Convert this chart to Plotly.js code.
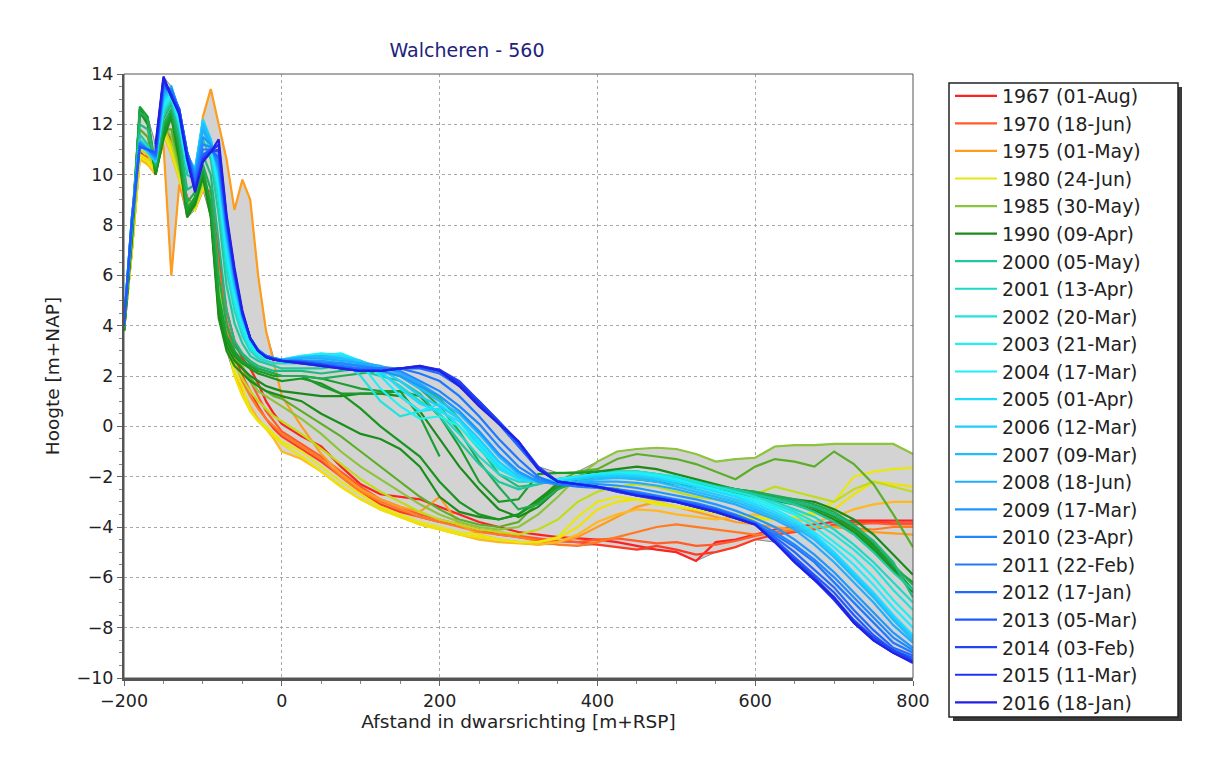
<!DOCTYPE html>
<html>
<head>
<meta charset="utf-8">
<script src="https://cdn.plot.ly/plotly-3.0.1.min.js"></script>
<style>html,body{margin:0;padding:0;background:#fff;}#chart{width:1212px;height:760px;}</style>
</head>
<body>
<div id="chart"></div>
<script>
// Shared cross-shore distance grid [m+RSP]
const afstand = [-200,-190,-180,-170,-160,-150,-140,-130,-120,-110,-100,-90,-80,-70,-60,-50,-40,-30,-20,-10,0,
  25,50,75,100,125,150,175,200,225,250,275,300,325,350,375,400,425,450,475,500,525,550,575,600,625,650,675,700,725,750,775,800];

// Heights [m+NAP] per survey
const y1967 = [3.8,7.2,10.9,10.6,10.1,12.1,11.3,10.2,9.1,8.7,9.5,9.3,6.8,4.6,3.4,2.7,2.3,1.7,1.0,0.5,0.1,
  -0.4,-0.8,-1.6,-2.3,-2.7,-2.8,-2.9,-3.2,-3.5,-3.8,-4.0,-4.2,-4.3,-4.4,-4.45,-4.5,-4.6,-4.75,-4.9,-5.0,-5.35,-4.6,-4.5,-4.3,-4.1,-4.0,-3.9,-3.8,-3.75,-3.75,-3.75,-3.75];
const y1968 = [3.8,7.0,10.7,10.5,10.0,11.8,11.0,10.0,8.9,8.6,9.4,9.1,6.2,4.0,2.8,2.0,1.4,0.8,0.3,-0.1,-0.4,
  -0.9,-1.4,-2.0,-2.6,-3.1,-3.4,-3.6,-3.8,-3.9,-4.1,-4.3,-4.4,-4.5,-4.55,-4.6,-4.7,-4.8,-4.9,-4.75,-4.9,-5.1,-5.0,-4.8,-4.5,-4.3,-4.2,-4.1,-3.9,-3.8,-3.8,-3.85,-3.85];
const y1970 = [3.8,7.1,10.8,10.7,10.2,11.9,11.1,10.1,9.0,8.8,9.6,9.2,6.4,4.2,3.0,2.3,1.8,1.2,0.6,0.2,-0.2,
  -0.7,-1.2,-1.8,-2.4,-2.9,-3.2,-3.5,-3.7,-3.9,-4.1,-4.2,-4.35,-4.45,-4.55,-4.6,-4.5,-4.45,-4.55,-4.65,-4.6,-4.75,-4.7,-4.55,-4.35,-4.2,-4.15,-4.05,-3.95,-3.9,-3.85,-3.9,-3.9];
const y1972 = [3.8,7.0,10.8,10.4,10.2,11.6,10.9,9.9,8.8,8.7,9.5,9.0,6.0,3.8,2.6,1.8,1.2,0.7,0.3,0.0,-0.3,
  -0.8,-1.3,-2.0,-2.6,-3.0,-3.3,-3.6,-3.8,-4.0,-4.2,-4.3,-4.4,-4.55,-4.7,-4.75,-4.6,-4.4,-4.2,-4.0,-3.9,-4.0,-4.1,-4.2,-4.3,-4.25,-4.1,-4.0,-4.0,-4.05,-4.1,-4.0,-4.0];
const y1975 = [3.8,7.0,10.8,10.5,10.4,11.2,6.0,9.6,8.6,9.0,12.3,13.4,12.0,10.6,8.6,9.8,9.0,6.0,3.8,2.5,1.2,
  0.0,-1.1,-1.9,-2.5,-2.9,-3.2,-3.4,-2.8,-3.9,-4.3,-4.5,-4.6,-4.7,-4.6,-4.4,-4.0,-3.6,-3.2,-3.0,-3.2,-3.4,-3.6,-3.8,-3.9,-4.0,-4.1,-4.0,-4.0,-4.1,-4.2,-4.25,-4.3];
const y1977 = [3.8,7.0,10.6,10.4,10.0,11.6,10.8,9.8,8.8,8.6,9.4,9.0,6.0,3.5,2.2,1.4,0.8,0.3,-0.1,-0.5,-1.0,
  -1.3,-1.8,-2.4,-2.9,-3.3,-3.6,-3.9,-4.1,-4.3,-4.5,-4.6,-4.65,-4.7,-4.6,-4.3,-3.8,-3.5,-3.3,-3.35,-3.5,-3.6,-3.7,-3.6,-3.5,-3.6,-3.7,-3.8,-3.6,-3.3,-3.1,-3.0,-3.0];
const y1979 = [3.8,7.1,10.8,10.6,10.2,11.8,11.0,10.0,8.9,8.7,9.6,9.1,5.8,3.4,2.0,1.2,0.6,0.2,-0.1,-0.4,-0.7,
  -1.2,-1.8,-2.4,-2.9,-3.3,-3.6,-3.9,-4.1,-4.3,-4.4,-4.5,-4.6,-4.6,-4.45,-4.0,-3.3,-3.0,-2.9,-3.0,-3.2,-3.3,-3.45,-3.6,-3.7,-3.7,-3.6,-3.5,-3.3,-2.7,-2.2,-2.3,-2.4];
const y1980 = [3.8,7.0,10.7,10.5,10.1,11.7,10.9,9.9,8.9,8.6,9.5,9.0,5.6,3.2,2.2,1.6,0.6,0.2,0.0,-0.3,-0.6,
  -1.0,-1.6,-2.2,-2.7,-3.2,-3.5,-3.8,-4.0,-4.2,-4.3,-4.5,-4.6,-4.6,-4.4,-3.6,-3.0,-2.8,-2.9,-3.1,-3.2,-3.3,-3.4,-3.5,-3.6,-3.7,-3.6,-3.4,-3.0,-2.0,-1.8,-1.7,-1.65];
const y1982 = [3.8,7.2,11.0,10.8,10.2,11.9,11.2,10.1,9.0,8.7,9.6,9.0,5.5,3.4,2.5,1.9,1.4,1.0,0.7,0.4,0.2,
  -0.3,-0.9,-1.5,-2.1,-2.6,-3.0,-3.4,-3.7,-3.9,-4.1,-4.2,-4.3,-4.1,-3.7,-3.0,-2.6,-2.4,-2.3,-2.4,-2.6,-2.8,-2.9,-3.0,-2.7,-2.4,-2.6,-2.8,-3.0,-2.5,-2.2,-2.4,-2.6];
const y1985 = [3.8,7.3,11.2,11.0,10.3,12.0,11.5,10.3,9.0,8.8,9.8,9.0,5.2,3.6,3.0,2.4,1.8,1.4,1.2,1.0,0.8,
  0.3,-0.3,-1.0,-1.6,-2.1,-2.6,-3.1,-3.5,-3.8,-4.0,-4.1,-4.0,-3.5,-2.8,-2.0,-1.4,-1.0,-0.9,-0.85,-0.9,-1.1,-1.4,-1.3,-1.25,-0.8,-0.75,-0.75,-0.7,-0.7,-0.7,-0.7,-1.1];
const y1987 = [3.8,7.4,11.8,11.5,10.2,11.8,11.8,10.5,8.8,8.9,9.9,8.8,4.8,3.4,2.8,2.3,1.9,1.6,1.4,1.2,1.1,
  0.6,0.1,-0.4,-1.0,-1.6,-2.2,-2.8,-3.3,-3.7,-3.9,-4.0,-3.8,-3.0,-2.2,-1.8,-1.7,-1.3,-1.1,-1.2,-1.3,-1.5,-1.8,-2.1,-1.6,-1.3,-1.4,-1.6,-1.0,-1.5,-2.3,-3.5,-4.8];
const y1990 = [3.8,7.5,12.6,12.1,10.0,11.5,12.4,10.8,8.4,8.9,10.0,8.4,4.5,3.2,2.6,2.3,2.0,1.8,1.6,1.5,1.4,
  1.3,1.2,1.2,1.3,1.3,1.2,0.6,-0.5,-1.6,-2.5,-3.3,-3.6,-3.2,-2.5,-2.0,-1.8,-1.7,-1.6,-1.7,-1.9,-2.1,-2.3,-2.5,-2.6,-2.8,-2.9,-3.0,-3.3,-3.7,-4.3,-5.1,-5.9];
const y1991 = [3.8,7.5,12.5,12.0,10.0,11.4,12.3,10.6,8.3,8.8,9.9,8.3,4.3,3.0,2.4,2.1,1.8,1.6,1.4,1.3,1.2,
  1.0,0.5,0.1,-0.3,-0.5,-0.9,-1.6,-2.8,-3.4,-3.6,-3.7,-3.5,-2.9,-2.3,-2.1,-2.0,-2.0,-2.1,-2.2,-2.3,-2.4,-2.5,-2.65,-2.8,-2.95,-3.1,-3.35,-3.7,-4.2,-4.9,-5.7,-6.6];
const y1992 = [3.8,7.6,12.4,12.2,10.1,11.6,12.3,10.7,8.5,9.0,10.1,8.6,4.8,3.4,2.8,2.5,2.3,2.1,2.0,1.9,1.8,
  1.9,1.7,1.3,0.7,0.0,-0.6,-1.2,-2.2,-3.0,-3.5,-3.7,-3.5,-3.0,-2.4,-2.1,-1.9,-1.9,-2.0,-2.1,-2.2,-2.3,-2.4,-2.5,-2.7,-2.9,-3.0,-3.2,-3.5,-4.0,-4.7,-5.6,-6.5];
const y1993 = [3.8,7.7,12.5,12.1,10.2,11.7,12.4,10.9,8.6,9.1,10.2,8.7,5.0,3.5,2.9,2.6,2.4,2.2,2.1,2.0,2.0,
  2.0,1.6,1.3,1.3,1.3,1.4,1.2,0.4,-0.8,-2.2,-3.0,-2.9,-1.9,-1.85,-1.85,-1.8,-1.8,-1.8,-1.9,-2.05,-2.2,-2.35,-2.5,-2.65,-2.8,-3.0,-3.25,-3.6,-4.1,-4.8,-5.6,-6.2];
const y1994 = [3.9,7.8,12.7,12.3,10.2,11.8,12.5,11.0,8.6,9.1,10.2,8.8,5.2,3.6,3.0,2.6,2.4,2.3,2.2,2.1,2.0,
  2.0,1.9,1.7,1.5,1.4,1.4,0.4,-1.2,null,null,null,null,null,null,null,null,null,null,null,null,null,null,null,null,null,null,null,null,null,null,null,null];
const y1996 = [3.9,7.9,12.5,12.2,10.3,12.0,12.6,11.2,8.9,9.3,10.4,9.4,6.0,4.0,3.2,2.8,2.5,2.3,2.2,2.1,2.0,
  2.0,1.9,2.0,2.1,2.2,2.0,1.5,0.8,-0.2,-1.4,-2.4,-3.3,-3.1,-2.5,-2.2,-2.0,-1.9,-1.9,-2.0,-2.1,-2.2,-2.35,-2.5,-2.6,-2.75,-2.9,-3.1,-3.4,-3.9,-4.6,-5.5,-6.3];
const y1998 = [3.9,8.0,12.0,11.8,10.4,12.2,12.8,11.5,9.4,9.6,10.8,10.0,7.2,4.6,3.4,2.9,2.6,2.4,2.3,2.2,2.2,
  2.2,2.1,2.2,2.3,2.2,2.0,1.6,1.1,0.3,-0.8,-1.9,-2.4,-2.3,-2.1,-2.0,-1.9,-1.9,-1.9,-2.0,-2.1,-2.25,-2.4,-2.55,-2.7,-2.85,-3.0,-3.2,-3.5,-3.95,-4.55,-5.4,-6.8];
const y2000 = [4.0,8.0,11.6,11.2,10.5,12.4,12.9,11.8,10.0,9.8,11.4,10.6,8.4,5.6,4.1,3.3,2.8,2.6,2.5,2.4,2.3,
  2.3,2.3,2.4,2.2,2.0,1.8,1.3,0.4,-0.6,-1.5,-2.2,-2.5,-2.3,-2.1,-2.0,-1.9,-1.9,-1.9,-2.0,-2.1,-2.2,-2.4,-2.5,-2.7,-2.9,-3.1,-3.4,-3.8,-4.3,-5.0,-5.8,-6.5];
const y2001 = [4.0,8.0,11.4,11.1,10.6,12.5,13.0,12.0,10.2,9.9,11.8,10.9,9.0,6.2,4.6,3.6,3.0,2.7,2.6,2.5,2.5,
  2.5,2.6,2.5,2.4,2.1,1.6,1.0,0.5,-0.3,-1.2,-1.9,-2.2,-2.2,-2.1,-2.0,-1.9,-1.85,-1.8,-1.9,-2.0,-2.2,-2.4,-2.6,-2.8,-3.0,-3.3,-3.6,-4.1,-4.7,-5.4,-6.2,-7.0];
const y2002 = [4.0,8.1,11.3,11.0,10.6,12.6,13.1,12.0,10.3,10.0,12.0,11.0,9.3,6.6,4.9,3.8,3.1,2.8,2.7,2.65,2.6,
  2.7,2.8,2.6,2.0,1.0,0.4,0.6,0.7,0.0,-0.9,-1.7,-2.1,-2.2,-2.1,-2.0,-1.9,-1.8,-1.8,-1.9,-2.0,-2.2,-2.4,-2.6,-2.8,-3.1,-3.4,-3.8,-4.3,-4.9,-5.6,-6.5,-7.3];
const y2003 = [4.1,8.2,11.3,11.0,10.6,12.7,13.2,12.1,10.4,10.1,12.1,11.1,9.5,6.9,5.1,4.0,3.2,2.9,2.75,2.7,2.65,
  2.8,2.9,2.8,2.5,1.5,0.8,0.3,0.4,0.0,-0.8,-1.6,-2.0,-2.15,-2.1,-2.0,-1.9,-1.85,-1.85,-1.95,-2.1,-2.3,-2.5,-2.7,-2.9,-3.2,-3.5,-4.0,-4.6,-5.2,-6.0,-6.9,-7.7];
const y2004 = [4.1,8.2,11.2,10.9,10.6,12.8,13.3,12.2,10.5,10.1,12.2,11.3,9.7,7.1,5.3,4.1,3.3,2.95,2.8,2.7,2.65,
  2.8,2.8,2.9,2.6,2.0,1.2,0.6,0.9,0.3,-0.6,-1.5,-2.0,-2.2,-2.15,-2.0,-1.9,-1.9,-1.9,-2.0,-2.15,-2.35,-2.55,-2.75,-3.0,-3.3,-3.7,-4.2,-4.8,-5.5,-6.3,-7.2,-8.0];
const y2005 = [4.1,8.2,11.2,10.9,10.5,12.9,13.4,12.3,10.6,10.2,12.2,11.4,9.9,7.3,5.5,4.2,3.4,3.0,2.8,2.7,2.65,
  2.7,2.8,2.8,2.6,2.2,1.5,0.9,0.6,0.2,-0.7,-1.6,-2.1,-2.2,-2.2,-2.05,-1.95,-1.9,-1.95,-2.05,-2.2,-2.4,-2.6,-2.8,-3.1,-3.4,-3.8,-4.3,-5.0,-5.8,-6.6,-7.5,-8.3];
const y2006 = [4.1,8.3,11.2,10.9,10.5,13.0,13.4,12.4,10.7,10.2,12.1,11.4,10.0,7.5,5.6,4.3,3.4,3.0,2.8,2.7,2.65,
  2.7,2.7,2.7,2.6,2.3,1.8,1.2,0.8,0.3,-0.5,-1.4,-2.0,-2.2,-2.2,-2.1,-2.0,-2.0,-2.0,-2.1,-2.3,-2.5,-2.7,-2.9,-3.2,-3.5,-3.9,-4.4,-5.1,-5.9,-6.7,-7.6,-8.4];
const y2007 = [4.1,8.3,11.3,11.0,10.6,13.1,13.5,12.5,10.8,10.2,12.0,11.3,10.1,7.6,5.7,4.4,3.5,3.05,2.8,2.7,2.65,
  2.75,2.8,2.7,2.5,2.3,2.0,1.5,1.0,0.5,-0.3,-1.2,-1.9,-2.2,-2.25,-2.2,-2.1,-2.05,-2.1,-2.2,-2.4,-2.6,-2.8,-3.0,-3.3,-3.6,-4.0,-4.5,-5.2,-6.0,-6.8,-7.7,-8.5];
const y2008 = [4.1,8.3,11.3,11.0,10.6,13.2,13.5,12.5,10.8,10.1,11.8,11.2,10.2,7.7,5.8,4.4,3.5,3.05,2.8,2.7,2.65,
  2.7,2.7,2.6,2.5,2.4,2.1,1.7,1.2,0.6,-0.2,-1.1,-1.8,-2.2,-2.3,-2.25,-2.2,-2.2,-2.25,-2.35,-2.5,-2.7,-2.9,-3.1,-3.4,-3.7,-4.1,-4.7,-5.4,-6.2,-7.0,-7.9,-8.6];
const y2009 = [4.1,8.3,11.3,11.0,10.7,13.3,13.4,12.6,10.9,10.0,11.5,11.2,10.3,7.8,5.9,4.4,3.5,3.05,2.8,2.7,2.6,
  2.6,2.6,2.5,2.4,2.2,2.0,1.6,1.2,0.6,-0.2,-1.1,-1.8,-2.2,-2.3,-2.3,-2.3,-2.35,-2.45,-2.6,-2.75,-2.9,-3.1,-3.35,-3.65,-4.0,-4.5,-5.1,-5.8,-6.6,-7.4,-8.2,-8.8];
const y2010 = [4.0,8.2,11.2,11.0,10.7,13.4,13.4,12.6,10.9,9.9,11.2,11.1,10.4,7.9,6.0,4.4,3.5,3.0,2.8,2.7,2.6,
  2.6,2.5,2.5,2.4,2.3,2.2,1.8,1.4,0.8,0.1,-0.8,-1.6,-2.1,-2.3,-2.35,-2.4,-2.5,-2.6,-2.75,-2.9,-3.05,-3.25,-3.5,-3.8,-4.2,-4.7,-5.3,-6.0,-6.8,-7.6,-8.4,-8.9];
const y2011 = [4.0,8.2,11.2,11.0,10.8,13.5,13.3,12.6,10.9,9.8,11.0,11.0,10.6,8.0,6.0,4.5,3.5,3.0,2.8,2.7,2.6,
  2.6,2.5,2.4,2.3,2.3,2.3,2.1,1.8,1.2,0.4,-0.5,-1.3,-2.0,-2.3,-2.4,-2.45,-2.55,-2.7,-2.85,-3.0,-3.2,-3.4,-3.6,-3.9,-4.3,-4.8,-5.4,-6.2,-7.0,-7.8,-8.6,-9.0];
const y2012 = [4.0,8.1,11.1,11.0,10.8,13.6,13.2,12.6,10.9,9.6,10.8,11.0,10.7,8.1,6.1,4.5,3.5,3.0,2.8,2.7,2.6,
  2.55,2.45,2.35,2.25,2.2,2.3,2.3,2.1,1.6,0.9,0.1,-0.8,-1.7,-2.2,-2.3,-2.4,-2.5,-2.65,-2.8,-2.95,-3.1,-3.3,-3.55,-3.85,-4.4,-5.0,-5.7,-6.4,-7.3,-8.1,-8.8,-9.1];
const y2013 = [4.0,8.1,11.1,11.0,10.9,13.7,13.2,12.6,10.8,9.5,10.7,11.0,10.9,8.2,6.1,4.5,3.5,3.0,2.75,2.65,2.6,
  2.55,2.45,2.3,2.2,2.2,2.3,2.35,2.2,1.7,1.0,0.2,-0.7,-1.7,-2.2,-2.3,-2.4,-2.55,-2.7,-2.85,-3.0,-3.15,-3.35,-3.6,-3.9,-4.5,-5.2,-5.9,-6.6,-7.5,-8.3,-8.9,-9.2];
const y2014 = [null,null,null,null,11.0,13.8,13.2,12.5,10.8,9.4,10.6,10.9,11.0,8.2,6.1,4.5,3.5,3.0,2.75,2.65,2.6,
  2.55,2.45,2.3,2.2,2.2,2.3,2.35,2.25,1.8,1.0,0.2,-0.6,-1.6,-2.2,-2.3,-2.4,-2.6,-2.75,-2.9,-3.0,-3.2,-3.4,-3.65,-3.9,-4.6,-5.3,-6.0,-6.8,-7.7,-8.4,-8.9,-9.3];
const y2015 = [null,null,null,null,11.1,13.8,13.1,12.5,10.7,9.4,10.6,10.9,11.2,8.3,6.2,4.5,3.5,3.0,2.75,2.65,2.6,
  2.5,2.4,2.3,2.2,2.2,2.3,2.4,2.25,1.7,0.9,0.1,-0.6,-1.7,-2.2,-2.3,-2.4,-2.6,-2.75,-2.85,-3.0,-3.2,-3.4,-3.65,-3.9,-4.6,-5.4,-6.1,-6.9,-7.8,-8.5,-9.0,-9.35];
const y2016 = [null,null,null,null,11.2,13.9,13.1,12.4,10.6,9.3,10.5,10.9,11.4,8.4,6.3,4.6,3.5,3.0,2.75,2.65,2.6,
  2.5,2.4,2.3,2.2,2.2,2.3,2.4,2.2,1.6,0.8,0.1,-0.6,-1.7,-2.2,-2.3,-2.4,-2.55,-2.75,-2.85,-3.0,-3.2,-3.4,-3.65,-3.9,-4.6,-5.4,-6.1,-6.8,-7.8,-8.5,-9.0,-9.4];

// Survey labels (legend) in drawing order; "" = not shown in legend
const surveyLabels = ["1967 (01-Aug)","","1970 (18-Jun)","","1975 (01-May)","","","1980 (24-Jun)","","1985 (30-May)","",
  "1990 (09-Apr)","","","","","","","2000 (05-May)","2001 (13-Apr)","2002 (20-Mar)","2003 (21-Mar)","2004 (17-Mar)",
  "2005 (01-Apr)","2006 (12-Mar)","2007 (09-Mar)","2008 (18-Jun)","2009 (17-Mar)","2010 (23-Apr)","2011 (22-Feb)",
  "2012 (17-Jan)","2013 (05-Mar)","2014 (03-Feb)","2015 (11-Mar)","2016 (18-Jan)"];
const surveyValues = [y1967,y1968,y1970,y1972,y1975,y1977,y1979,y1980,y1982,y1985,y1987,
  y1990,y1991,y1992,y1993,y1994,y1996,y1998,y2000,y2001,y2002,y2003,y2004,
  y2005,y2006,y2007,y2008,y2009,y2010,y2011,y2012,y2013,y2014,y2015,y2016];
const surveyColors = ["#ff2020","#ff3a22","#ff5c2a","#ff7a22","#ff9c1e","#ffb820","#f2e200","#e8e810","#c0dc18","#8cc43c","#5cae28",
  "#1a8a1a","#1a8e1a","#1a961e","#1a9a28","#1aa030","#20ac54","#20b87c","#20c8a0","#20d8c8","#20e4dc","#20f0f0","#20ecff",
  "#20dcff","#20ccff","#20bcff","#20acff","#2096ff","#2088ff","#2078ff","#2068ff","#2058ff","#2044f0","#2034f0","#2020e6"];

// Envelope (min/max over all surveys)
const envMax = afstand.map((_, i) => {
  const v = surveyValues.map(s => s[i]).filter(d => d !== null && d !== undefined);
  return Math.max(...v);
});
const envMin = afstand.map((_, i) => {
  const v = surveyValues.map(s => s[i]).filter(d => d !== null && d !== undefined);
  return Math.min(...v);
});

const traces = [
  {x: afstand, y: envMax, type: 'scatter', mode: 'lines', line: {color: '#8a8a8a', width: 1}, showlegend: false, hoverinfo: 'skip'},
  {x: afstand, y: envMin, type: 'scatter', mode: 'lines', fill: 'tonexty', fillcolor: '#d3d3d3', line: {color: '#8a8a8a', width: 1}, showlegend: false, hoverinfo: 'skip'}
];
surveyValues.forEach((ys, k) => {
  traces.push({
    x: afstand, y: ys, type: 'scatter', mode: 'lines',
    name: surveyLabels[k] || ('survey ' + k),
    showlegend: surveyLabels[k] !== "",
    line: {color: surveyColors[k], width: 2.2},
    connectgaps: false
  });
});

// Layout geometry in pixels
const L = 124, T = 74, W = 789, AXB = 678;   // axis box: left, top, width, bottom
const MB = 40;                               // bottom margin (legend needs extra height)
const GH = 760 - T - MB;                     // plotting area height
const px2x = p => (p - L) / W;
const px2y = p => 1 - (p - T) / GH;

const font = "DejaVu Sans, Verdana, sans-serif";
const layout = {
  width: 1212, height: 760,
  margin: {l: L, r: 1212 - L - W, t: T, b: MB},
  paper_bgcolor: '#ffffff', plot_bgcolor: '#ffffff',
  font: {family: font, color: '#222222'},
  title: {text: 'Walcheren - 560', font: {family: font, size: 19, color: '#22227a'},
          x: px2x(467), xanchor: 'center', xref: 'paper', y: 1 - 50 / 760, yanchor: 'middle', yref: 'container'},
  xaxis: {
    range: [-200, 800], dtick: 200, tick0: 0,
    showgrid: true, gridcolor: '#a8a8a8', griddash: 'dot', gridwidth: 1,
    zeroline: false, showline: true, linecolor: '#555555', linewidth: 3,
    ticks: 'outside', ticklen: 5, tickcolor: '#666666',
    minor: {dtick: 50, ticks: 'outside', ticklen: 3, tickcolor: '#888888', showgrid: false},
    tickfont: {family: font, size: 17.5, color: '#222222'},
    title: {text: 'Afstand in dwarsrichting [m+RSP]', font: {family: font, size: 18.5, color: '#222222'}, standoff: 6},
    automargin: false
  },
  yaxis: {
    range: [-10, 14], dtick: 2, tick0: 0,
    domain: [(760 - MB - AXB) / GH, 1],
    showgrid: true, gridcolor: '#a8a8a8', griddash: 'dot', gridwidth: 1,
    zeroline: false, showline: true, linecolor: '#555555', linewidth: 2,
    ticks: 'outside', ticklen: 5, tickcolor: '#666666',
    minor: {dtick: 0.5, ticks: 'outside', ticklen: 3, tickcolor: '#888888', showgrid: false},
    tickfont: {family: font, size: 17.5, color: '#222222'},
    title: {text: 'Hoogte [m+NAP]', font: {family: font, size: 18.5, color: '#222222'}, standoff: 12},
    automargin: false
  },
  legend: {
    x: px2x(950), y: px2y(77), xanchor: 'left', yanchor: 'top',
    xref: 'paper', yref: 'paper', traceorder: 'normal',
    bgcolor: 'rgba(0,0,0,0)', borderwidth: 0,
    font: {family: font, size: 18.9, color: '#222222'},
    tracegroupgap: 0, itemwidth: 42
  },
  shapes: [
    {type: 'rect', xref: 'x domain', yref: 'y domain', x0: 0, x1: 1, y0: 0, y1: 1, line: {color: '#555555', width: 1}, layer: 'above'},
    {type: 'rect', xref: 'paper', yref: 'paper', x0: px2x(953), x1: px2x(1182), y0: px2y(87), y1: px2y(721),
     fillcolor: '#3a3a3a', line: {width: 0}, layer: 'below'},
    {type: 'rect', xref: 'paper', yref: 'paper', x0: px2x(949), x1: px2x(1178), y0: px2y(83), y1: px2y(717),
     fillcolor: '#ffffff', line: {color: '#222222', width: 1.5}, layer: 'below'}
  ],
  showlegend: true
};

Plotly.newPlot('chart', traces, layout, {displayModeBar: false, staticPlot: true});
</script>
</body>
</html>
